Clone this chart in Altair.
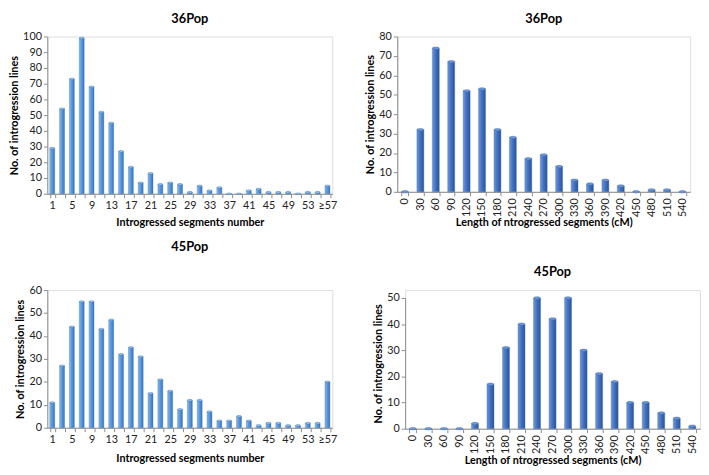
import json
import altair as alt
import pandas as pd

# ---------------- data ----------------
seg_labels = ["1", "3", "5", "7", "9", "11", "13", "15", "17", "19", "21", "23", "25", "27",
              "29", "31", "33", "35", "37", "39", "41", "43", "45", "47", "49", "51", "53", "55", "≥57"]
seg_shown = ["1", "5", "9", "13", "17", "21", "25", "29", "33", "37", "41", "45", "49", "53", "≥57"]
pop36_seg = [29, 54, 73, 99, 68, 52, 45, 27, 17, 7, 13, 6, 7, 6, 1, 5, 2, 4, 0, 0, 2, 3, 1, 1, 1, 0, 1, 1, 5]
pop45_seg = [11, 27, 44, 55, 55, 43, 47, 32, 35, 31, 15, 21, 16, 8, 12, 12, 7, 3, 3, 5, 3, 1, 2, 2, 1, 1, 2, 2, 20]

len_labels = ["0", "30", "60", "90", "120", "150", "180", "210", "240", "270", "300",
              "330", "360", "390", "420", "450", "480", "510", "540"]
pop36_len = [0, 32, 74, 67, 52, 53, 32, 28, 17, 19, 13, 6, 4, 6, 3, 0, 1, 1, 0]
pop45_len = [0, 0, 0, 0, 2, 17, 31, 40, 50, 42, 50, 30, 21, 18, 10, 10, 6, 4, 1]

y_title = "No. of introgression lines"
x_title_seg = "Introgressed segments number"
x_title_len = "Length of ntrogressed segments (cM)"

FONT = "Lato"
CAP = "M-1,0 A1,0.35 0 1,1 1,0 A1,0.35 0 1,1 -1,0 Z"

grad_light = alt.Gradient(
    gradient="linear", x1=0, x2=1, y1=0, y2=0,
    stops=[alt.GradientStop(offset=0, color="#8dbdee"),
           alt.GradientStop(offset=0.4, color="#5b9be0"),
           alt.GradientStop(offset=1, color="#3a76bd")])
grad_dark = alt.Gradient(
    gradient="linear", x1=0, x2=1, y1=0, y2=0,
    stops=[alt.GradientStop(offset=0, color="#7197d8"),
           alt.GradientStop(offset=0.45, color="#4472c4"),
           alt.GradientStop(offset=1, color="#2a5497")])


def panel(labels, values, title, xtitle, ymax, w, h, grad, cap_color, cap_w, rotated,
          shown=None, title_offset=14, pad_inner=0.5, top_gap=0, x_title_pad=3):
    df = pd.DataFrame({"cat": labels, "val": values})
    xaxis_kw = dict(
        title=xtitle, labelFont=FONT, labelFontSize=11, labelColor="#222",
        titleFont=FONT, titleFontSize=11, titleFontWeight="bold", titleColor="#000",
        domainColor="#8c8c8c", tickColor="#8c8c8c", tickSize=4, tickBand="extent",
        labelPadding=2, titlePadding=x_title_pad,
    )
    if rotated:
        xaxis_kw["labelAngle"] = 270
    else:
        xaxis_kw["labelAngle"] = 0
        xaxis_kw["labelExpr"] = ("indexof(" + json.dumps(shown) +
                                 ", datum.label) >= 0 ? datum.label : ''")
    x = alt.X("cat:N", sort=labels,
              scale=alt.Scale(paddingInner=pad_inner, paddingOuter=pad_inner / 2),
              axis=alt.Axis(**xaxis_kw))
    yscale = dict(domain=[0, ymax], nice=False)
    if top_gap:
        yscale["range"] = [h, top_gap]
    y = alt.Y("val:Q", scale=alt.Scale(**yscale),
              axis=alt.Axis(title=y_title, values=list(range(0, ymax + 1, 10)), grid=False,
                            labelFont=FONT, labelFontSize=11, labelColor="#222",
                            titleFont=FONT, titleFontSize=11, titleFontWeight="bold",
                            titleColor="#000", domainColor="#8c8c8c", tickColor="#8c8c8c",
                            tickSize=4, labelPadding=2, titlePadding=3))
    base = alt.Chart(df)
    bars = base.mark_bar(color=grad, stroke="#3a6fb0", strokeWidth=0.4).encode(x=x, y=y)
    caps = base.mark_point(shape=CAP, filled=True, size=cap_w * cap_w, color=cap_color,
                           stroke="#3a6fb0", strokeWidth=0.4, opacity=1).encode(x=x, y=y)
    tkw = dict(text=title, font=FONT, fontSize=13, fontWeight="bold", color="#000",
               anchor="middle", offset=title_offset)
    return alt.layer(bars, caps, title=alt.TitleParams(**tkw)).properties(width=w, height=h)


tl = panel(seg_labels, pop36_seg, "36Pop", x_title_seg, 100, 290, 160, grad_light,
           "#9cc6f0", 5, False, seg_shown, title_offset=5, x_title_pad=6)
tr = panel(len_labels, pop36_len, "36Pop", x_title_len, 80, 298, 158, grad_dark,
           "#6f95d6", 7, True, title_offset=5, pad_inner=0.55, x_title_pad=0)
bl = panel(seg_labels, pop45_seg, "45Pop", x_title_seg, 60, 290, 140, grad_light,
           "#9cc6f0", 5, False, seg_shown, title_offset=31, x_title_pad=8)
br = panel(len_labels, pop45_len, "45Pop", x_title_len, 50, 300, 141, grad_dark,
           "#6f95d6", 7, True, title_offset=11, pad_inner=0.55, top_gap=8, x_title_pad=1)

top = alt.hconcat(tl, tr, spacing=26)
bottom = alt.hconcat(bl, br, spacing=34)
chart = alt.vconcat(top, bottom, spacing=12).properties(
    padding={"left": 0, "top": 0, "right": 0, "bottom": 0}
).configure_view(stroke=None).configure(background="white")

chart.save("out.html", embed_options={"renderer": "svg", "actions": False})
